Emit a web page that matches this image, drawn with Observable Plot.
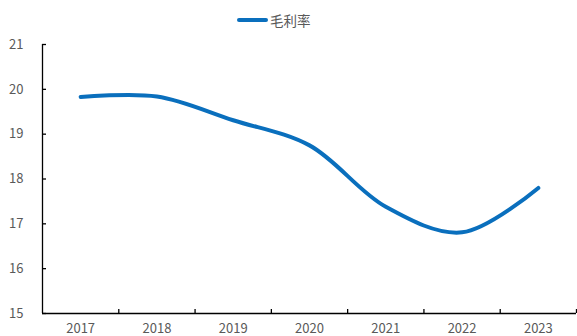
<!DOCTYPE html>
<html>
<head>
<meta charset="utf-8">
<script src="https://cdn.jsdelivr.net/npm/d3@7"></script>
<script src="https://cdn.jsdelivr.net/npm/@observablehq/plot@0.6"></script>
<style>
  html, body { margin: 0; padding: 0; background: #fff; }
  #wrap { position: relative; width: 577px; height: 336px; overflow: hidden; font-family: "Noto Sans CJK SC", "Noto Sans", sans-serif; }
  #legend { position: absolute; left: 237px; top: 10px; height: 20px; display: flex; align-items: center; font-size: 13.5px; color: #595959; }
  #legend .swatch { width: 31px; height: 4px; background: #0a6fbd; border-radius: 2px; margin-right: 2px; }
  #chart { position: absolute; left: 0; top: 34px; }
</style>
</head>
<body>
<div id="wrap">
  <div id="legend"><span class="swatch"></span><span>毛利率</span></div>
  <div id="chart"></div>
</div>
<script>
const years = [2017, 2018, 2019, 2020, 2021, 2022, 2023];
const grossMargin = [19.83, 19.84, 19.31, 18.75, 17.38, 16.81, 17.80];
const yTicks = [15, 16, 17, 18, 19, 20, 21];
const seriesName = "毛利率";

const data = years.map((y, i) => ({year: y, value: grossMargin[i]}));
const boundaries = years.map(y => y + 0.5);

const chart = Plot.plot({
  width: 577,
  height: 302,
  marginTop: 10,
  marginBottom: 23,
  marginLeft: 42,
  marginRight: 1,
  style: {fontFamily: "'Noto Sans CJK SC', 'Noto Sans', sans-serif", fontSize: "13px", color: "#595959"},
  x: {domain: [years[0] - 0.5, years[years.length - 1] + 0.5], axis: null},
  y: {domain: [15, 21], axis: null},
  marks: [
    Plot.axisY({ticks: yTicks, label: null, tickSize: -4, tickPadding: 23, stroke: "#000", fill: "#595959", strokeWidth: 1.3, tickFormat: d => String(d)}),
    Plot.axisX({ticks: boundaries, label: null, tickSize: -4, tickFormat: () => "", stroke: "#000", strokeWidth: 1.3}),
    Plot.axisX({ticks: years, label: null, tickSize: 0, tickPadding: 10, tickFormat: d => String(d), fill: "#595959"}),
    Plot.ruleX([years[0] - 0.5], {stroke: "#000", strokeWidth: 1.3}),
    Plot.ruleY([15], {stroke: "#000", strokeWidth: 1.3}),
    Plot.line(data, {x: "year", y: "value", stroke: "#0a6fbd", strokeWidth: 4, curve: "catmull-rom", strokeLinecap: "round"})
  ]
});
document.getElementById("chart").appendChild(chart);
</script>
</body>
</html>
